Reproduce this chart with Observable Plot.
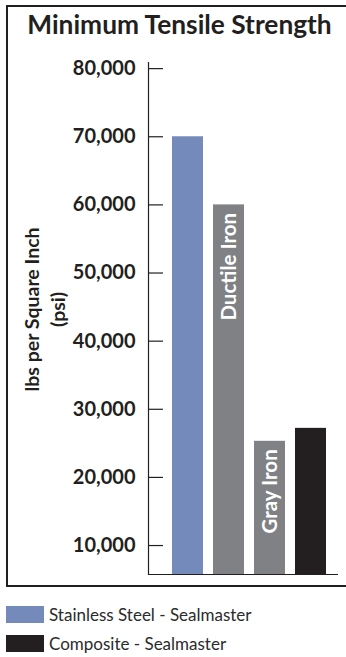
<!DOCTYPE html>
<html><head><meta charset="utf-8">
<script src="https://cdn.jsdelivr.net/npm/d3@7"></script>
<script src="https://cdn.jsdelivr.net/npm/@observablehq/plot@0.6"></script>
<style>
body{margin:0;background:#fff;font-family:Lato,sans-serif;color:#231f20}
#frame{position:absolute;left:6px;top:5px;width:338px;border-top:2px solid #231f20;border-left:2px solid #231f20;border-bottom:2px solid #231f20}
#title{height:36px;line-height:35px;text-align:center;font-weight:bold;font-size:26.3px;padding-left:5px;box-sizing:border-box;white-space:nowrap}
#chart svg{display:block}
.row{position:absolute;left:6px;height:17px;display:flex;align-items:center;font-size:17px;white-space:nowrap;color:#2b2b2b}
.sw{width:38px;height:17px;margin-right:5px;flex:none}
</style></head>
<body>
<div id="frame"><div id="title">Minimum Tensile Strength</div><div id="chart"></div></div>
<div id="legend"></div>
<script>
const categories = ["Stainless Steel - Sealmaster", "Ductile Iron", "Gray Iron", "Composite - Sealmaster"];
const values = [70000, 60000, 25300, 27200];
const colors = ["#748abb", "#808184", "#808184", "#231f20"];
const barLabels = ["", "Ductile Iron", "Gray Iron", ""];
const yTicks = [10000, 20000, 30000, 40000, 50000, 60000, 70000, 80000];
const yLabel = "lbs per Square Inch\n(psi)";
const legendItems = ["Stainless Steel - Sealmaster", "Composite - Sealmaster"];
const legendColors = ["#748abb", "#231f20"];
const yDomain = [5750, 80900];

const data = categories.map((c, i) => ({category: c, value: values[i], color: colors[i], label: barLabels[i]}));
const ink = "#231f20";

const chart = Plot.plot({
  width: 338, height: 542,
  marginLeft: 140, marginRight: 8, marginTop: 19, marginBottom: 11,
  style: {fontFamily: "Lato, sans-serif", background: "white", color: ink},
  x: {domain: categories, paddingInner: 0.256, paddingOuter: 0.408, align: 0.647, axis: null},
  y: {domain: yDomain, clamp: true, axis: null},
  color: {type: "identity"},
  marks: [
    Plot.barY(data, {x: "category", y: "value", fill: "color"}),
    Plot.ruleY([yDomain[0]], {stroke: ink, strokeWidth: 1.2}),
    Plot.frame({anchor: "left", stroke: ink, strokeWidth: 1.2}),
    Plot.axisY(yTicks, {tickSize: 15, dx: 15, fill: "none", stroke: ink, strokeWidth: 1.2, label: null}),
    Plot.axisY(yTicks, {tickSize: 0, tickPadding: 13, tickFormat: d3.format(","), fontSize: 20, fontWeight: "bold", fill: ink, label: null}),
    Plot.text([yLabel], {frameAnchor: "left", text: d => d, rotate: -90, dx: -105, dy: -9, fontSize: 19.5, fontWeight: "bold", lineHeight: 1.32, textAnchor: "middle", lineAnchor: "middle", fill: ink}),
    Plot.text(data.filter(d => d.label), {x: "category", y: "value", text: "label", rotate: -90, textAnchor: "end", lineAnchor: "middle", dy: 8, fill: "white", fontSize: 20.5, fontWeight: "bold"})
  ]
});
document.getElementById("chart").appendChild(chart);

const legend = document.getElementById("legend");
legendItems.forEach((t, i) => {
  const row = document.createElement("div");
  row.className = "row";
  row.style.top = (606 + i * 29) + "px";
  const sw = document.createElement("div");
  sw.className = "sw";
  sw.style.background = legendColors[i];
  const span = document.createElement("span");
  span.textContent = t;
  row.appendChild(sw); row.appendChild(span);
  legend.appendChild(row);
});
</script>
</body></html>
